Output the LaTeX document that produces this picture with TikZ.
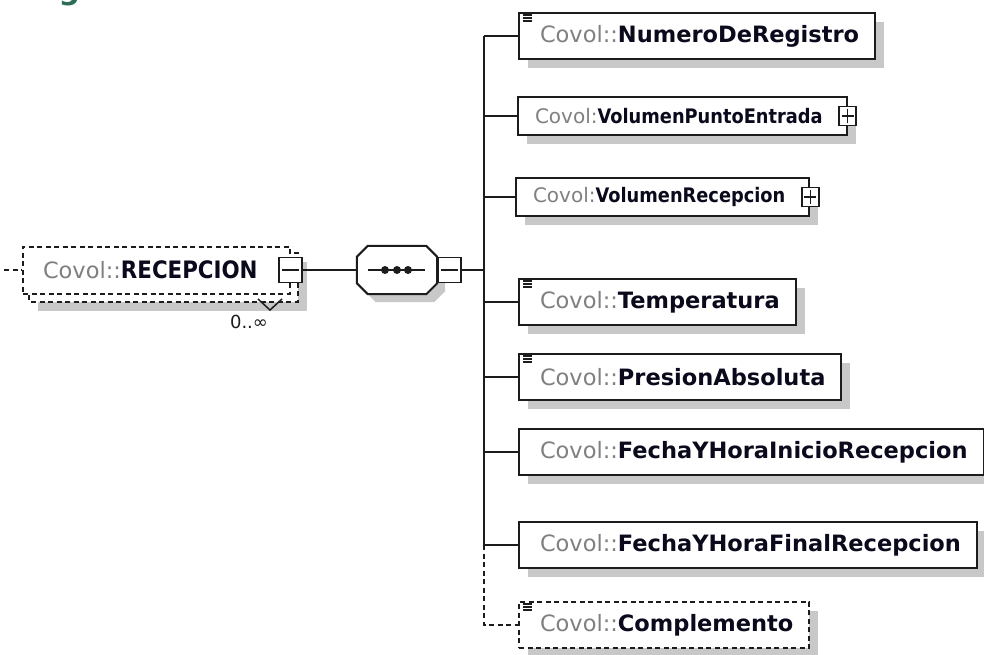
\documentclass[tikz,border=0pt]{standalone}
\usepackage{fontspec}
\setmainfont{DejaVu Sans}
\newfontfamily\condsans{DejaVu Sans}[FakeStretch=0.89]
\definecolor{xsdark}{RGB}{28,28,28}
\definecolor{xsgrey}{RGB}{128,128,128}
\definecolor{xsname}{RGB}{10,10,28}
\definecolor{xsshade}{RGB}{200,200,200}
\definecolor{xsgreen}{RGB}{45,108,88}
\usetikzlibrary{positioning,shadows,backgrounds}
\newcommand{\pfx}[1]{\textcolor{xsgrey}{#1}}
\newcommand{\nm}[1]{\kern5pt\pfx{Covol::}\textcolor{xsname}{\bfseries #1}}
\newcommand{\cnm}[1]{\pfx{Covol:}\textcolor{xsname}{\condsans\bfseries #1}\kern7pt}
\newcommand{\seqoutline}[1]{([xshift=11pt]#1.north west) -- ([xshift=-11pt]#1.north east) -- ([yshift=-11pt]#1.north east) -- ([yshift=11pt]#1.south east) -- ([xshift=-11pt]#1.south east) -- ([xshift=11pt]#1.south west) -- ([yshift=11pt]#1.south west) -- ([yshift=-11pt]#1.north west) -- cycle}
\newcommand{\simplemark}[1]{\foreach \dy in {3,6,9} \draw[xsdark, line width=1.2pt] ([xshift=5pt,yshift=-\dy pt]#1.north west) -- ++(9,0);}

\begin{document}
\begin{tikzpicture}[x=1pt, y=-1pt,
  boxbase/.style={draw=xsdark, fill=white, line width=2pt, inner ysep=0pt},
  elem/.style={boxbase, anchor=west, minimum height=46pt, inner xsep=16pt, font=\fontsize{22.5}{27}\selectfont, drop shadow={shadow xshift=9pt, shadow yshift=-9pt, fill=xsshade, opacity=1}},
  cplx/.style={elem, minimum height=38pt, inner xsep=17pt, font=\fontsize{20}{24}\selectfont},
  opt/.style={dash pattern=on 5pt off 3.5pt},
  conn/.style={draw=xsdark, line width=2pt},
  btn/.style={draw=xsdark, fill=white, line width=1.5pt, inner sep=0pt, minimum width=23pt, minimum height=25pt},
  minusbtn/.style={btn, path picture={\draw[xsdark, line width=1.5pt] ([xshift=3pt]path picture bounding box.west) -- ([xshift=-3pt]path picture bounding box.east);}},
  plusbtn/.style={btn, minimum width=17pt, minimum height=19pt, path picture={\draw[xsdark, line width=1.5pt] ([xshift=2.5pt]path picture bounding box.west) -- ([xshift=-2.5pt]path picture bounding box.east) ([yshift=-2.5pt]path picture bounding box.north) -- ([yshift=2.5pt]path picture bounding box.south);}}]
\useasboundingbox (0,0) rectangle (984,654);
\node[anchor=base west, inner sep=0pt, font=\fontsize{30}{30}\selectfont\bfseries, text=xsgreen] (title) at (3,-0.5) {Diagram};

\node[boxbase, opt, anchor=west, minimum height=47pt, inner xsep=20pt, font=\fontsize{22.5}{27}\selectfont] (rec) at (22,270) {\pfx{Covol::}\textcolor{xsname}{\fontsize{24}{27}\selectfont\condsans\bfseries RECEPCION}\kern12pt};
\begin{scope}[on background layer]
  \fill[xsshade, transform canvas={xshift=16pt, yshift=-16pt}] (rec.north west) rectangle (rec.south east);
  \draw[boxbase, opt, transform canvas={xshift=7pt, yshift=-7pt}] (rec.north west) rectangle (rec.south east);
\end{scope}
\node[minusbtn] (recm) at (rec.east) {};
\node[font=\fontsize{18}{21}\selectfont, text=xsdark, inner sep=0pt] (occ) at (249,322) {0..∞};
\draw[xsdark, line width=1.5pt] (258,299) -- (270,310) -- (282,299);
\coordinate (recin) at (4,270);
\draw[conn, opt, line width=1.5pt] (recin) -- (rec.west);

\node[minimum width=80pt, minimum height=48pt, inner sep=0pt] (seq) at (397,270) {};
\begin{scope}[on background layer]
  \fill[xsshade, transform canvas={xshift=8pt, yshift=-8pt}] \seqoutline{seq};
\end{scope}
\draw[conn, fill=white] \seqoutline{seq};
\draw[conn] ([xshift=-29pt]seq.center) -- ([xshift=28pt]seq.center);
\foreach \dx in {-12,0,11} \fill[xsdark] ([xshift=\dx pt]seq.center) circle (4pt);
\node[minusbtn, anchor=west] (seqm) at (seq.east) {};
\draw[conn] (recm.east) -- (seq.west);

\coordinate (spine) at (484,270);
\draw[conn] (seqm.east) -- (spine);

\node[elem] (nr) at (518,36) {\nm{NumeroDeRegistro}};
\node[cplx] (vpe) at (517,116) {\cnm{VolumenPuntoEntrada}};
\node[plusbtn] (vpep) at (vpe.east) {};
\node[cplx] (vrc) at (515,197) {\cnm{VolumenRecepcion}};
\node[plusbtn] (vrcp) at (vrc.east) {};
\node[elem] (tmp) at (518,302) {\nm{Temperatura}};
\node[elem] (pab) at (518,377) {\nm{PresionAbsoluta}};
\node[elem] (fin) at (518,452) {\nm{FechaYHoraInicioRecepcion}};
\node[elem] (ffn) at (518,545) {\nm{FechaYHoraFinalRecepcion}};
\node[elem, opt] (cmp) at (518,625) {\nm{Complemento}};
\foreach \b in {nr,tmp,pab,cmp} {\simplemark{\b}}

\draw[conn] (spine |- nr.west) -- (spine |- ffn.west);
\foreach \b in {nr,vpe,vrc,tmp,pab,fin,ffn} \draw[conn] (spine |- \b.west) -- (\b.west);
\draw[conn, opt] (spine |- ffn.west) |- (cmp.west);
\end{tikzpicture}
\end{document}
